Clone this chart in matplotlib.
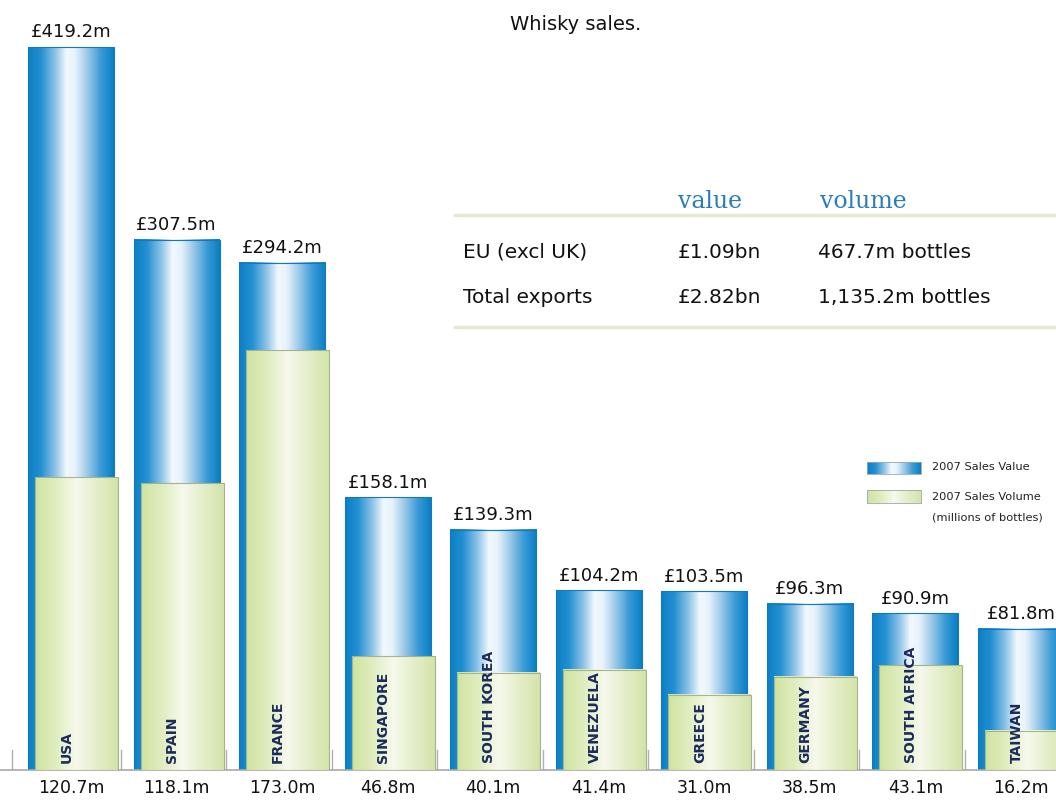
import numpy as np
import matplotlib
matplotlib.use("Agg")
import matplotlib.pyplot as plt
from matplotlib.colors import LinearSegmentedColormap
from matplotlib.patches import Rectangle

# ---- data ----
countries = ["USA", "SPAIN", "FRANCE", "SINGAPORE", "SOUTH KOREA", "VENEZUELA",
             "GREECE", "GERMANY", "SOUTH AFRICA", "TAIWAN"]
sales_value = [419.2, 307.5, 294.2, 158.1, 139.3, 104.2, 103.5, 96.3, 90.9, 81.8]   # £m
sales_volume = [120.7, 118.1, 173.0, 46.8, 40.1, 41.4, 31.0, 38.5, 43.1, 16.2]     # m bottles
table_rows = ["EU (excl UK)", "Total exports"]
table_values = ["£1.09bn", "£2.82bn"]
table_volumes = ["467.7m bottles", "1,135.2m bottles"]
table_headers = ["value", "volume"]
legend_labels = [["2007 Sales Value"], ["2007 Sales Volume", "(millions of bottles)"]]
title = "Whisky sales."

W, H = 1056, 800
fig = plt.figure(figsize=(W / 100, H / 100), dpi=100)
fig.patch.set_facecolor("white")

def fx(px):
    return px / W

def fy(py):
    return 1 - py / H

ax = fig.add_axes([0, fy(770), 1, 770 / H])
ax2 = ax.twinx()
for a in (ax, ax2):
    a.set_axis_off()

blue_cmap = LinearSegmentedColormap.from_list("blue", [
    (0.0, "#0a80c6"), (0.15, "#2390d2"), (0.32, "#8fc4e8"), (0.45, "#f3f9fe"),
    (0.55, "#e6f2fb"), (0.68, "#a3cce9"), (0.85, "#3a9bd7"), (1.0, "#097ec4")])
green_cmap = LinearSegmentedColormap.from_list("green", [
    (0.0, "#d0e3a0"), (0.25, "#e0edbe"), (0.5, "#f6f9ec"), (0.75, "#e4eec8"),
    (1.0, "#d4e3aa")])
grad = np.linspace(0, 1, 256).reshape(1, -1)

spacing = 105.55
x0_px = 71
n = len(countries)

bw = 86 / spacing
gw = 83 / spacing
goff = 5.5 / spacing

for i, (v, vol, c) in enumerate(zip(sales_value, sales_volume, countries)):
    ax.imshow(grad, cmap=blue_cmap, extent=(i - bw / 2, i + bw / 2, 0, v),
              aspect="auto", zorder=2, interpolation="bilinear")
    ax.add_patch(Rectangle((i - bw / 2, 0), bw, v, fill=False, ec="#1479bb",
                           lw=0.8, zorder=3))
    ax.annotate(f"£{v}m", (i, v), xytext=(0, 4), textcoords="offset points",
                ha="center", va="bottom", fontsize=13, color="#111111")
    ax2.imshow(grad, cmap=green_cmap,
               extent=(i + goff - gw / 2, i + goff + gw / 2, 0, vol),
               aspect="auto", zorder=4, interpolation="bilinear")
    ax2.add_patch(Rectangle((i + goff - gw / 2, 0), gw, vol, fill=False,
                            ec="#a3b58e", lw=0.8, zorder=5))
    ax2.annotate(c, (i - 0.04, 0), xytext=(0, 5), textcoords="offset points",
                 rotation=90, ha="center", va="bottom", fontsize=10,
                 fontweight="bold", color="#1c2a5c", zorder=6)
    ax.annotate(f"{vol}m", (i, 0), xytext=(0, -13), textcoords="offset points",
                ha="center", va="center", fontsize=12.5, color="#111111",
                annotation_clip=False)

# baseline and small separators
ax.axhline(0, color="#a8a8a8", lw=1.2, zorder=7, clip_on=False)
sep = [-0.56] + [i + 0.47 for i in range(n - 1)]
for s in sep:
    ax.plot([s, s], [0, 20 / 1.7247], color="#b0b0b0", lw=1, zorder=1)

ax.set_xlim(-x0_px / spacing, (W - x0_px) / spacing)
ax2.set_xlim(-x0_px / spacing, (W - x0_px) / spacing)
ax.set_ylim(0, 770 / 1.7247)
ax2.set_ylim(0, 770 / 2.4275)

# title
fig.text(fx(576), fy(25), title, ha="center", va="center", fontsize=14,
         color="#111111")

# summary table
for yl in (215, 327):
    fig.add_artist(plt.Line2D([fx(455), fx(W)], [fy(yl), fy(yl)],
                              color="#e4e9cf", lw=2.5))
for hx, h in zip((678, 820), table_headers):
    fig.text(fx(hx), fy(201), h, ha="left", va="center", fontsize=17,
             family="DejaVu Serif", color="#2b7cbf")
for ry, r, v, vol in zip((252, 297), table_rows, table_values, table_volumes):
    fig.text(fx(463), fy(ry), r, ha="left", va="center", fontsize=14.5,
             color="#111111")
    fig.text(fx(678), fy(ry), v, ha="left", va="center", fontsize=14.5,
             color="#111111")
    fig.text(fx(818), fy(ry), vol, ha="left", va="center", fontsize=14.5,
             color="#111111")

# legend
for (top, bot), cmap, labs, ly in zip(((462, 474), (490, 503)),
                                       (blue_cmap, green_cmap), legend_labels,
                                       (467, 497)):
    sax = fig.add_axes([fx(867), fy(bot), fx(921) - fx(867), (bot - top) / H])
    sax.imshow(grad, cmap=cmap, aspect="auto", interpolation="bilinear")
    sax.set_xticks([]); sax.set_yticks([])
    for sp in sax.spines.values():
        sp.set_color("#9aa8b0"); sp.set_linewidth(0.6)
    for k, lab in enumerate(labs):
        fig.text(fx(932), fy(ly + 20 * k), lab, ha="left", va="center",
                 fontsize=8.2, color="#222222")

fig.savefig("out.png", dpi=100, facecolor="white")
